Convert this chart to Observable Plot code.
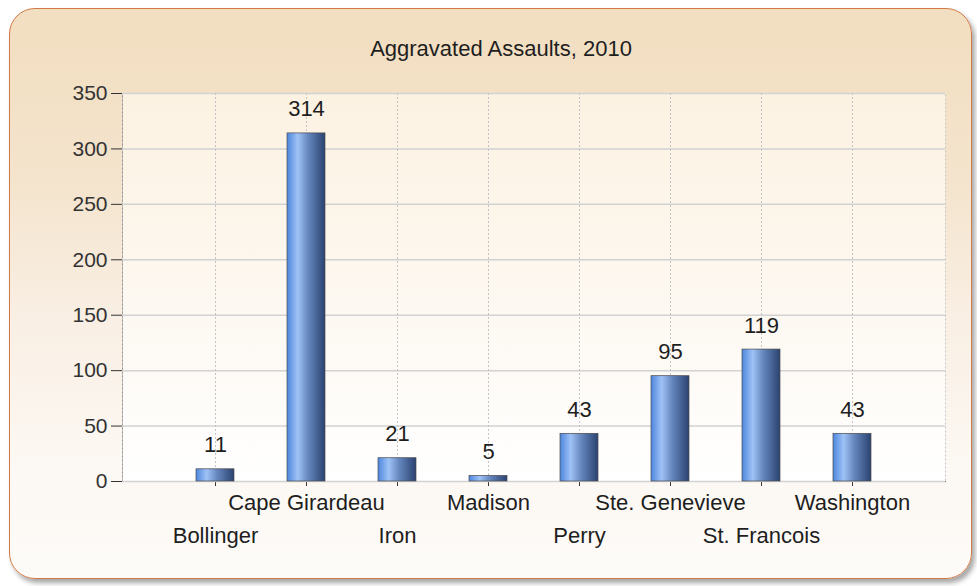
<!DOCTYPE html>
<html>
<head>
<meta charset="utf-8">
<script src="https://cdn.jsdelivr.net/npm/d3@7"></script>
<script src="https://cdn.jsdelivr.net/npm/@observablehq/plot@0.6"></script>
<style>
  html, body { margin: 0; padding: 0; background: #ffffff; width: 977px; height: 586px; overflow: hidden; }
  #panel {
    position: absolute; left: 9px; top: 8px; width: 961px; height: 569px;
    border: 1.5px solid #d27a45; border-radius: 26px;
    background: linear-gradient(to bottom, #f2dec0 0%, #f4e4cd 30%, #f9efe4 55%, #fcf8f3 80%, #fdfbf8 100%);
    box-shadow: 3px 4px 5px rgba(0,0,0,0.35);
  }
  #chart { position: absolute; left: 0; top: 0; }
</style>
</head>
<body>
<div id="panel"></div>
<div id="chart"></div>
<script>
const title = "Aggravated Assaults, 2010";
const categories = ["Bollinger", "Cape Girardeau", "Iron", "Madison", "Perry", "Ste. Genevieve", "St. Francois", "Washington"];
const values = [11, 314, 21, 5, 43, 95, 119, 43];
const yTicks = [0, 50, 100, 150, 200, 250, 300, 350];

const data = categories.map((c, i) => ({county: c, value: values[i], row: i % 2}));
const font = "'Liberation Sans', Arial, sans-serif";

const plot = Plot.plot({
  width: 977,
  height: 586,
  marginLeft: 122,
  marginRight: 32,
  marginTop: 93,
  marginBottom: 105,
  style: {background: "transparent", fontFamily: font, fontSize: "21px", color: "#333", overflow: "visible"},
  x: {domain: categories, paddingInner: 0.585, paddingOuter: 0.79, tickSize: 5, tickFormat: () => "", line: true, label: null},
  y: {domain: [0, 350], ticks: yTicks, tickSize: 11, tickPadding: 4, line: true, label: null},
  marks: [
    Plot.frame({fill: "url(#plotBg)", stroke: "#c4c4c4", strokeDasharray: "2,2"}),
    Plot.ruleY(yTicks, {stroke: "#d2d2d2", strokeWidth: 1.5}),
    Plot.ruleX(categories, {stroke: "#c4c4c4", strokeDasharray: "2,2"}),
    Plot.barY(data, {x: "county", y: "value", fill: "url(#barGrad)", stroke: "#4a4a4a", strokeWidth: 0.7}),
    Plot.text(data, {x: "county", y: "value", text: d => String(d.value), dy: -24, lineAnchor: "middle", fill: "#1e1e1e", fontSize: 22}),
    Plot.text(data.filter(d => d.row === 1), {x: "county", frameAnchor: "bottom", lineAnchor: "middle", dy: 21, text: "county", fill: "#1e1e1e", fontSize: 22}),
    Plot.text(data.filter(d => d.row === 0), {x: "county", frameAnchor: "bottom", lineAnchor: "middle", dy: 54, text: "county", fill: "#1e1e1e", fontSize: 22}),
    Plot.text([title], {frameAnchor: "top", lineAnchor: "middle", dy: -45, dx: -33, text: d => d, fill: "#1e1e1e", fontSize: 22})
  ]
});

const svg = d3.select(plot.tagName.toLowerCase() === "svg" ? plot : plot.querySelector("svg"));
const defs = svg.insert("defs", ":first-child");
const bg = defs.append("linearGradient").attr("id", "plotBg").attr("x1", 0).attr("y1", 0).attr("x2", 0).attr("y2", 1);
bg.append("stop").attr("offset", "0%").attr("stop-color", "#fcf2e2");
bg.append("stop").attr("offset", "55%").attr("stop-color", "#fdf8f1");
bg.append("stop").attr("offset", "100%").attr("stop-color", "#ffffff");
const bar = defs.append("linearGradient").attr("id", "barGrad").attr("x1", 0).attr("y1", 0).attr("x2", 1).attr("y2", 0);
bar.append("stop").attr("offset", "0%").attr("stop-color", "#4d86de");
bar.append("stop").attr("offset", "28%").attr("stop-color", "#9fc2f6");
bar.append("stop").attr("offset", "55%").attr("stop-color", "#6688bf");
bar.append("stop").attr("offset", "100%").attr("stop-color", "#2a4270");

document.getElementById("chart").appendChild(plot);
</script>
</body>
</html>
